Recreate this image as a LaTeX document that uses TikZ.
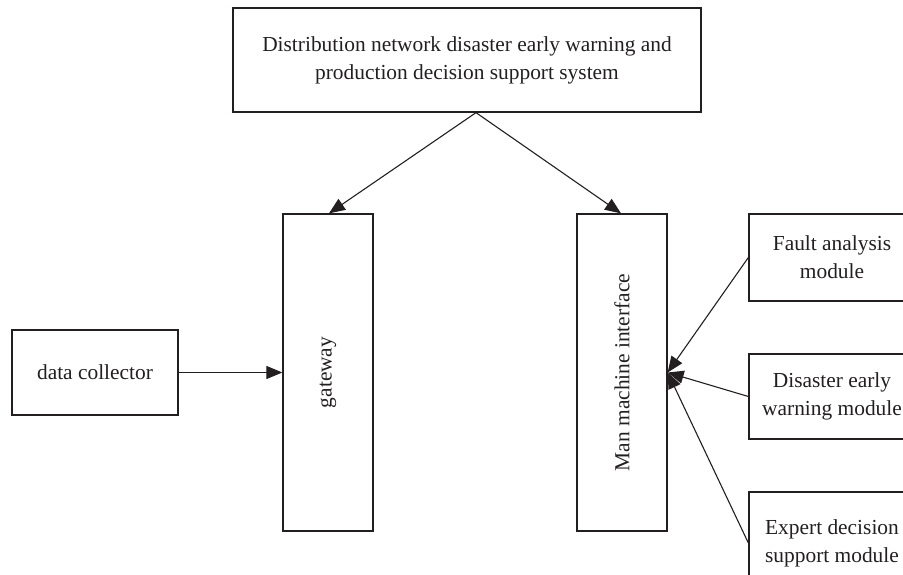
\documentclass[tikz,border=0pt]{standalone}
\usepackage{fontspec}
\setmainfont{Liberation Serif}
\usetikzlibrary{arrows.meta,calc}
\definecolor{ink}{HTML}{231F20}
\begin{document}
\begin{tikzpicture}[x=1pt,y=-1pt,
  lbl/.style={text=ink,font=\fontsize{21.4}{28}\selectfont},
  box/.style={lbl,draw=ink,line width=1.3pt,inner sep=0pt,align=center},
  conn/.style={draw=ink,line width=1.1pt,-{Triangle[length=16pt,width=13pt]}}]
\useasboundingbox (0,0) rectangle (903,575);
\clip (0,0) rectangle (903,575);
\node[box,minimum width=468,minimum height=104] (top) at (467,60)
  {Distribution network disaster early warning and\\production decision support system};
\node[box,minimum width=166,minimum height=85] (dc) at (95,372.5) {data collector};
\node[box,minimum width=90,minimum height=317] (gw) at (328,372.5) {};
\node[lbl,rotate=90] (gwt) at (gw.center) {gateway};
\node[box,minimum width=90,minimum height=317] (mmi) at (622,372.5) {};
\node[lbl,rotate=90] (mmit) at (mmi.center) {Man machine interface};
\node[box,minimum width=166,minimum height=87] (fa) at (832,257.5) {Fault analysis\\module};
\node[box,minimum width=166,minimum height=85] (dw) at (832,396.5) {Disaster early\\warning module};
\node[box,minimum width=166,minimum height=102] (ed) at (832,543) {Expert decision\\support module};
\coordinate (split) at ($(top.south)+(9,0)$);
\coordinate (gwin) at ($(gw.north)+(1,0)$);
\coordinate (mmiin) at ($(mmi.north)+(-1,0)$);
\draw[conn] (split) -- (gwin);
\draw[conn] (split) -- (mmiin);
\draw[conn] (dc.east) -- (gw.west);
\draw[conn] (fa.west) -- (mmi.east);
\draw[conn] (dw.west) -- (mmi.east);
\draw[conn] (ed.west) -- (mmi.east);
\end{tikzpicture}
\end{document}
